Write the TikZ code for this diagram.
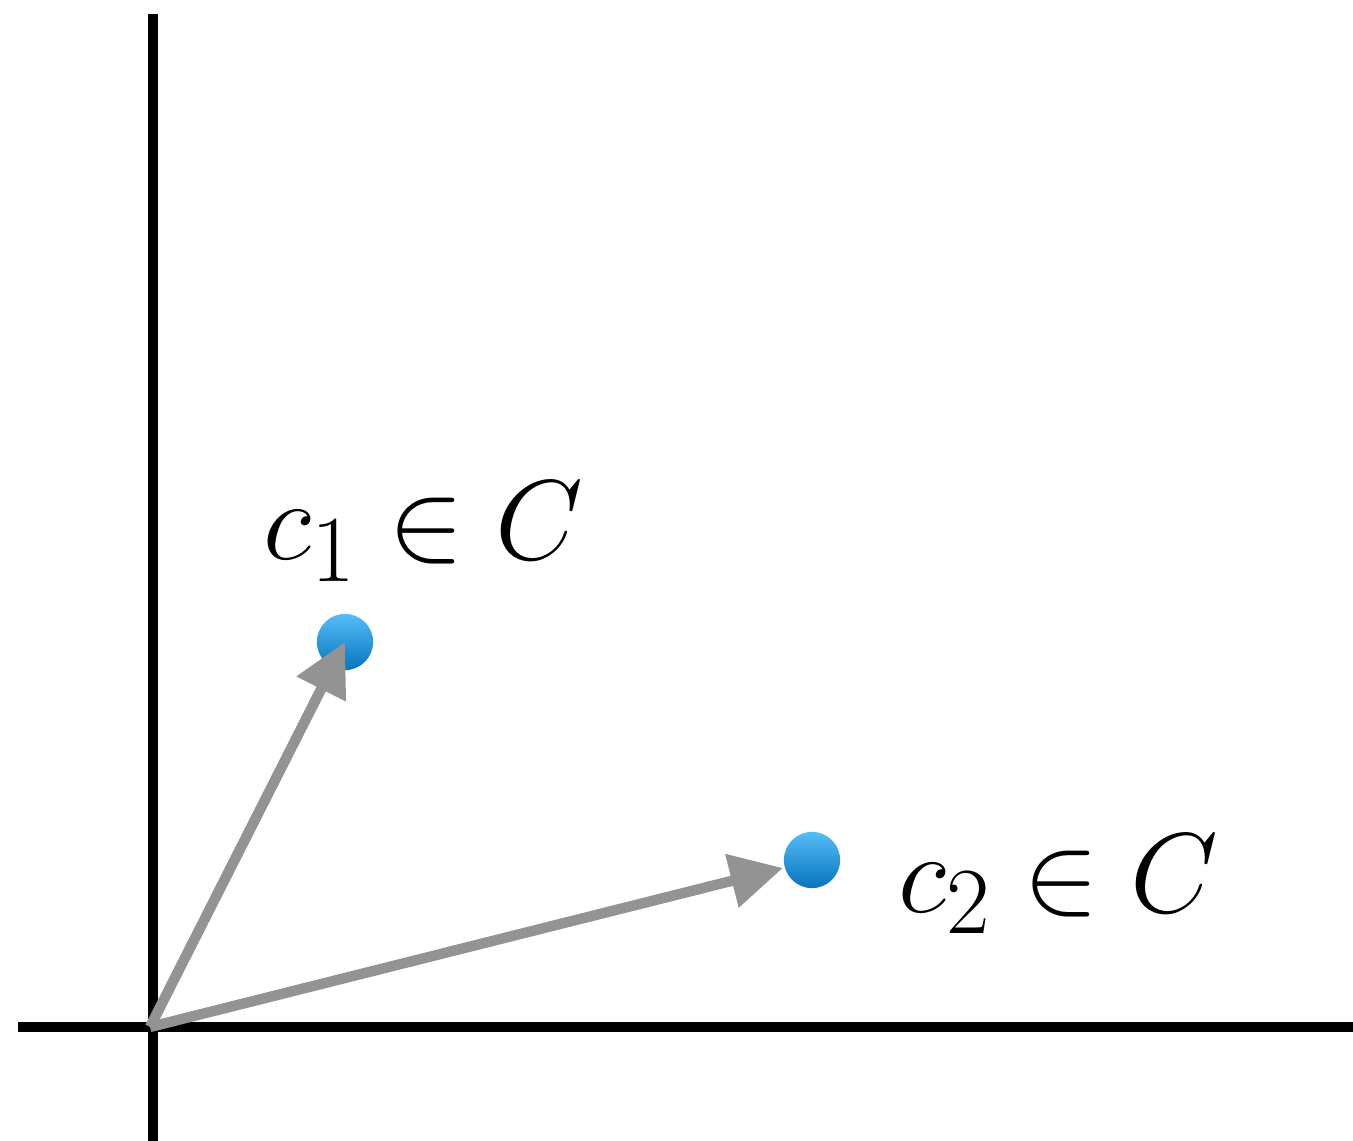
\documentclass[tikz,border=0pt]{standalone}
\usepackage{graphicx}
\usetikzlibrary{arrows.meta}
\definecolor{vecgray}{HTML}{939393}
\definecolor{dottop}{HTML}{55BDF7}
\definecolor{dotbot}{HTML}{0674BD}
\newcommand{\memb}[1]{\scalebox{2.6}{\Huge$c_{#1} \in C$}}
\begin{document}
\begin{tikzpicture}[x=0.02cm,y=-0.02cm,
  axis/.style={line width=5.9pt,black},
  vec/.style={line width=5.9pt,vecgray,-{Triangle[length=30pt,width=30pt]}},
  cent/.style={circle,minimum size=32pt,inner sep=0pt,top color=dottop,bottom color=dotbot},
  lbl/.style={anchor=base west,inner sep=0pt}]
  \useasboundingbox (0,0) rectangle (1353,1141);
  \draw[axis] (153,14) -- (153,1141);
  \draw[axis] (18,1027) -- (1353,1027);
  \coordinate (o) at (150,1027);
  \node[cent] (c1) at (345,642) {};
  \node[cent] (c2) at (812,860) {};
  \coordinate (t2) at (783,868);
  \draw[vec] (o) -- (c1.center);
  \draw[vec] (o) -- (t2);
  \node[lbl] (l1) at (263,560) {\memb{1}};
  \node[lbl] (l2) at (898,912) {\memb{2}};
\end{tikzpicture}
\end{document}
